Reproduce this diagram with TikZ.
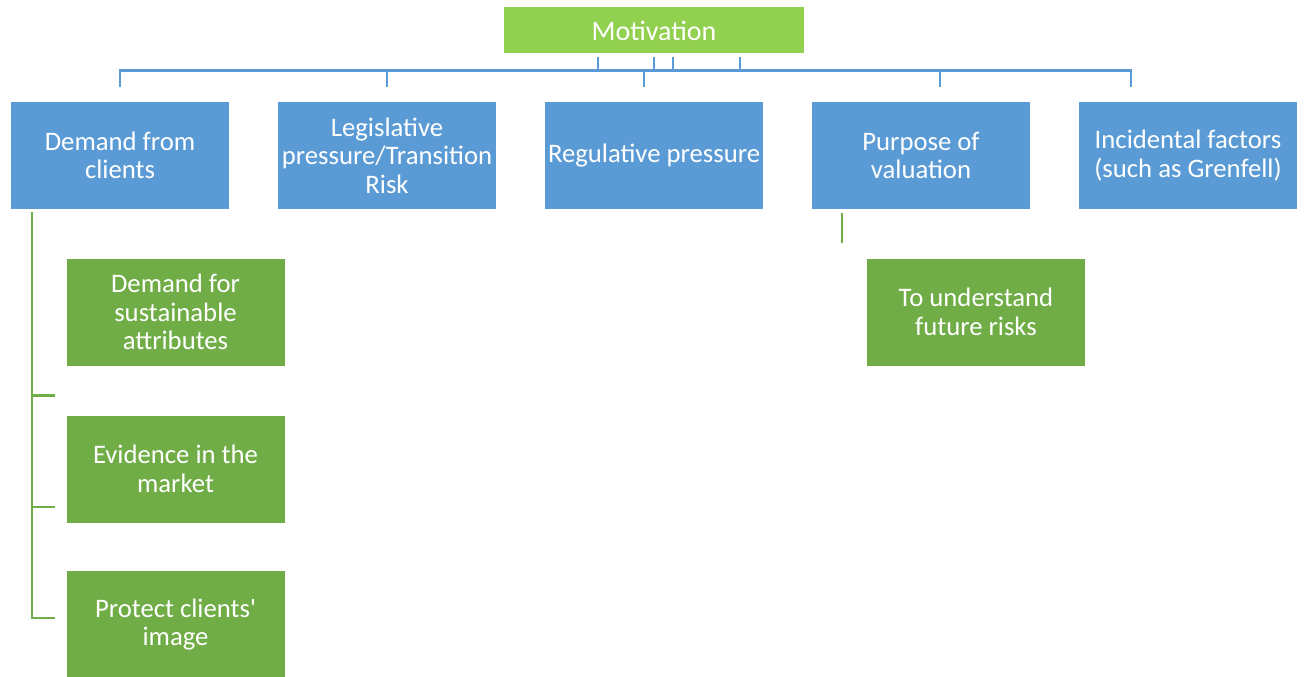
\documentclass[tikz,border=0pt]{standalone}
\usepackage{fontspec}
\setmainfont{Carlito}
\definecolor{boxblue}{HTML}{5B9BD5}
\definecolor{topgreen}{HTML}{92D050}
\definecolor{subgreen}{HTML}{70AD47}
\begin{document}
\begin{tikzpicture}[x=1pt,y=-1pt,
  topbox/.style={fill=topgreen,text=white,minimum width=300pt,minimum height=46pt,inner sep=0pt,
    font=\fontsize{28}{30}\selectfont},
  catbox/.style={fill=boxblue,text=white,minimum width=218pt,minimum height=107pt,inner sep=0pt,
    align=center,font=\fontsize{26.7}{28.5}\selectfont},
  subbox/.style={fill=subgreen,text=white,minimum width=218pt,minimum height=107pt,inner sep=0pt,
    align=center,font=\fontsize{26.7}{28.5}\selectfont},
  blueline/.style={draw=boxblue,line width=2.6pt},
  greenline/.style={draw=subgreen,line width=2.6pt}]
\useasboundingbox (0,0) rectangle (1304,677);

% top node
\node[topbox] (mot) at (654,30.5) {Motivation};

% first level
\node[catbox] (c1) at (120,155.5) {Demand from\\clients};
\node[catbox] (c2) at (387,155.5) {Legislative\\pressure/Transition\\Risk};
\node[catbox] (c3) at (654,155.5) {Regulative pressure};
\node[catbox] (c4) at (921,155.5) {Purpose of\\valuation};
\node[catbox] (c5) at (1188,155.5) {Incidental factors\\(such as Grenfell)};

% second level
\node[subbox] (s1) at (175.5,312) {Demand for\\sustainable\\attributes};
\node[subbox] (s2) at (175.5,469) {Evidence in the\\market};
\node[subbox] (s3) at (175.5,624.5) {Protect clients\textquotesingle\\image};
\node[subbox] (s4) at (976,312) {To understand\\future risks};

% bus below the top node
\coordinate (bus) at (0,70.5);
\coordinate (t1) at ([xshift=-56pt,yshift=-3.5pt]mot.south);
\coordinate (t2) at ([yshift=-3.5pt]mot.south);
\coordinate (t3) at ([xshift=19pt,yshift=-3.5pt]mot.south);
\coordinate (t4) at ([xshift=86pt,yshift=-3.5pt]mot.south);
\coordinate (d1) at (120,87);
\coordinate (d2) at (387,87);
\coordinate (d3) at (644,87);
\coordinate (d4) at (940,87);
\coordinate (d5) at (1131,87);

\draw[blueline] (d1) -- (d1|-bus) -- (d5|-bus) -- (d5);
\foreach \d in {d2,d3,d4} \draw[blueline] (\d) -- (\d|-bus);
\foreach \t in {t1,t2,t3,t4} \draw[blueline] (\t) -- (\t|-bus);

% branch under the first category
\coordinate (g0) at (32,212);
\coordinate (g1) at (55,395.5);
\coordinate (g2) at (55,507);
\coordinate (g3) at (55,618);
\draw[greenline] (g0) -- (g0|-g3) -- (g3);
\draw[greenline] (g0|-g1) -- (g1);
\draw[greenline] (g0|-g2) -- (g2);

% short stub under the fourth category
\coordinate (h0) at (842,213);
\coordinate (h1) at (842,243);
\draw[greenline] (h0) -- (h1);
\end{tikzpicture}
\end{document}
